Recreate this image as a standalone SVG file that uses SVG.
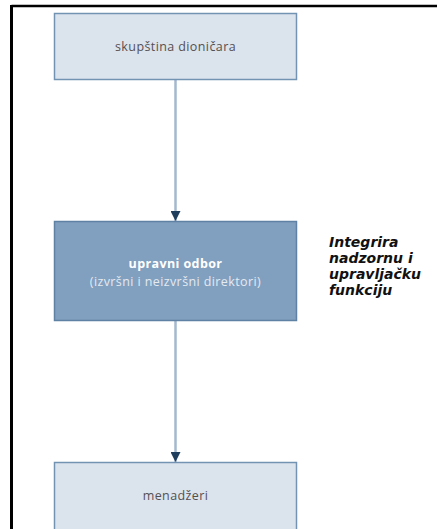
<svg xmlns="http://www.w3.org/2000/svg" width="437" height="529" viewBox="0 0 437 529">
<defs>
<style>
.box{fill:#dbe3ed;stroke:#7393b3;stroke-width:1.5}
.dark{fill:#819fbe;stroke:#5f81a3;stroke-width:1.5}
.lbl{font-family:"Open Sans","Liberation Sans",sans-serif;font-size:12.5px;letter-spacing:0.4px;fill:#555050;text-anchor:middle}
.w1{font-family:"Open Sans","Liberation Sans",sans-serif;font-size:12.5px;letter-spacing:0.4px;font-weight:bold;fill:#ffffff;text-anchor:middle}
.w2{font-family:"Open Sans","Liberation Sans",sans-serif;font-size:12.5px;letter-spacing:0.4px;fill:#e3eaf2;text-anchor:middle}
.note{font-family:"DejaVu Sans","Liberation Sans",sans-serif;font-size:14px;font-weight:bold;font-style:italic;fill:#111}
.conn{stroke:#a4b9cf;stroke-width:2.5;fill:none}
</style>
<marker id="ah" viewBox="0 0 10 10" refX="10" refY="5" markerWidth="4" markerHeight="4" orient="auto" markerUnits="strokeWidth">
<path d="M0,0 L10,5 L0,10 z" fill="#1f3d5c"/>
</marker>
</defs>
<rect width="437" height="529" fill="#ffffff"/>
<g id="frame">
<line x1="11.5" y1="6" x2="437" y2="6" stroke="#000" stroke-width="2.5"/>
<line x1="11.5" y1="5" x2="11.5" y2="529" stroke="#000" stroke-width="3"/>
</g>
<g id="connectors">
<line class="conn" x1="175.5" y1="80" x2="175.5" y2="221" marker-end="url(#ah)"/>
<line class="conn" x1="175.5" y1="321" x2="175.5" y2="462" marker-end="url(#ah)"/>
</g>
<g id="skupstina">
<rect class="box" x="54.5" y="13.5" width="242" height="66"/>
<text class="lbl" x="175.5" y="51">skupština dioničara</text>
</g>
<g id="upravni">
<rect class="dark" x="54.5" y="221.5" width="242" height="99"/>
<text class="w1" x="175.5" y="268">upravni odbor</text>
<text class="w2" x="175.5" y="286">(izvršni i neizvršni direktori)</text>
</g>
<g id="menadzeri">
<rect class="box" x="54.5" y="462.5" width="242" height="80"/>
<text class="lbl" x="175.5" y="500">menadžeri</text>
</g>
<g id="note">
<text class="note" x="329" y="247">Integrira</text>
<text class="note" x="329" y="263">nadzornu i</text>
<text class="note" x="329" y="279">upravljačku</text>
<text class="note" x="329" y="295">funkciju</text>
</g>
</svg>
